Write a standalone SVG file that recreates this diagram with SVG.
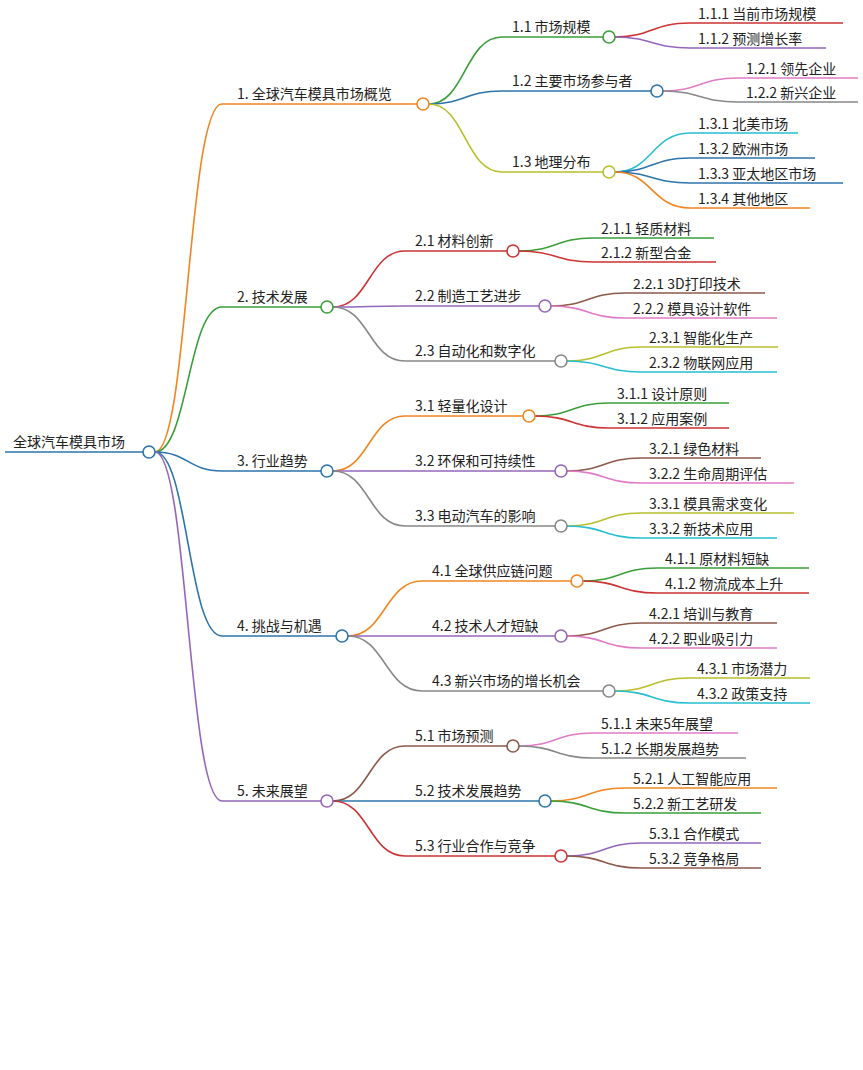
<svg xmlns="http://www.w3.org/2000/svg" width="863" height="1070" viewBox="0 0 863 1070">
<style>
text{font-family:"Noto Sans CJK SC","Noto Sans",sans-serif;font-size:14px;fill:#222}
path{fill:none;stroke-width:1.6}
circle{fill:#fff;stroke-width:1.6}
.o{stroke:#f0861f}.g{stroke:#3a9e3a}.b{stroke:#2c74aa}.p{stroke:#9466bb}.r{stroke:#cc3333}.y{stroke:#b8bf2d}.k{stroke:#888}.pk{stroke:#e07cc5}.c{stroke:#27bfd0}.br{stroke:#8c5a4a}
</style>
<rect width="863" height="1070" fill="#fff"/>
<g id="connectors">
<path class="b" d="M5 452H143" stroke-width="3.5"/>
<path class="o" d="M155 452C188 452 188 104 222 104H417" stroke-width="2"/>
<path class="g" d="M155 452C188 452 188 307 222 307H321" stroke-width="2"/>
<path class="b" d="M155 452C188 452 188 471 222 471H321" stroke-width="2"/>
<path class="b" d="M155 452C188 452 188 636 222 636H336" stroke-width="2"/>
<path class="p" d="M155 452C188 452 188 801 222 801H321" stroke-width="2"/>
<path class="g" d="M429 104C465 104 465 37 502 37H603"/>
<path class="b" d="M429 104C465 104 465 91 502 91H651"/>
<path class="y" d="M429 104C465 104 465 172 502 172H603"/>
<path class="r" d="M333 307C369 307 369 251 405 251H507"/>
<path class="p" d="M333 307C369 307 369 306 405 306H539"/>
<path class="k" d="M333 307C369 307 369 361 405 361H555"/>
<path class="o" d="M333 471C369 471 369 416 405 416H523"/>
<path class="p" d="M333 471C369 471 369 471 405 471H555"/>
<path class="k" d="M333 471C369 471 369 526 405 526H555"/>
<path class="o" d="M348 636C385 636 385 581 422 581H571"/>
<path class="p" d="M348 636C385 636 385 636 422 636H555"/>
<path class="k" d="M348 636C385 636 385 691 422 691H603"/>
<path class="br" d="M333 801C369 801 369 746 405 746H507"/>
<path class="b" d="M333 801C369 801 369 801 405 801H539"/>
<path class="r" d="M333 801C369 801 369 856 405 856H555"/>
<path class="r" d="M615 37C652 37 652 23 690 23H843"/>
<path class="p" d="M615 37C652 37 652 48 690 48H826"/>
<path class="pk" d="M663 91C700 91 700 78 738 78H858"/>
<path class="k" d="M663 91C700 91 700 102 738 102H858"/>
<path class="c" d="M615 172C652 172 652 133 690 133H798"/>
<path class="b" d="M615 172C652 172 652 158 690 158H815"/>
<path class="b" d="M615 172C652 172 652 183 690 183H843"/>
<path class="o" d="M615 172C652 172 652 208 690 208H810"/>
<path class="g" d="M519 251C556 251 556 238 593 238H714"/>
<path class="r" d="M519 251C556 251 556 262 593 262H716"/>
<path class="br" d="M551 306C588 306 588 293 625 293H765"/>
<path class="pk" d="M551 306C588 306 588 318 625 318H777"/>
<path class="y" d="M567 361C604 361 604 347 641 347H778"/>
<path class="c" d="M567 361C604 361 604 372 641 372H777"/>
<path class="g" d="M535 416C572 416 572 403 609 403H729"/>
<path class="r" d="M535 416C572 416 572 428 609 428H729"/>
<path class="br" d="M567 471C604 471 604 458 641 458H761"/>
<path class="pk" d="M567 471C604 471 604 483 641 483H794"/>
<path class="y" d="M567 526C604 526 604 513 641 513H794"/>
<path class="c" d="M567 526C604 526 604 538 641 538H777"/>
<path class="g" d="M583 581C620 581 620 568 657 568H809"/>
<path class="r" d="M583 581C620 581 620 593 657 593H809"/>
<path class="br" d="M567 636C604 636 604 623 641 623H777"/>
<path class="pk" d="M567 636C604 636 604 648 641 648H777"/>
<path class="y" d="M615 691C652 691 652 678 689 678H810"/>
<path class="c" d="M615 691C652 691 652 703 689 703H810"/>
<path class="pk" d="M519 746C556 746 556 733 593 733H738"/>
<path class="k" d="M519 746C556 746 556 758 593 758H746"/>
<path class="o" d="M551 801C588 801 588 788 625 788H777"/>
<path class="g" d="M551 801C588 801 588 813 625 813H761"/>
<path class="p" d="M567 856C604 856 604 843 641 843H761"/>
<path class="br" d="M567 856C604 856 604 868 641 868H761"/>
</g>
<g id="root"><text x="13" y="447">全球汽车模具市场</text><circle class="b" cx="149" cy="452" r="6"/></g>
<g id="n1"><text x="237" y="99">1. 全球汽车模具市场概览</text><circle class="o" cx="423" cy="104" r="6"/></g>
<g id="n2"><text x="237" y="302">2. 技术发展</text><circle class="g" cx="327" cy="307" r="6"/></g>
<g id="n3"><text x="237" y="466">3. 行业趋势</text><circle class="b" cx="327" cy="471" r="6"/></g>
<g id="n4"><text x="237" y="631">4. 挑战与机遇</text><circle class="b" cx="342" cy="636" r="6"/></g>
<g id="n5"><text x="237" y="796">5. 未来展望</text><circle class="p" cx="327" cy="801" r="6"/></g>
<g id="n1_1"><text x="512" y="32">1.1 市场规模</text><circle class="g" cx="609" cy="37" r="6"/></g>
<g id="n1_2"><text x="512" y="86">1.2 主要市场参与者</text><circle class="b" cx="657" cy="91" r="6"/></g>
<g id="n1_3"><text x="512" y="167">1.3 地理分布</text><circle class="y" cx="609" cy="172" r="6"/></g>
<g id="n2_1"><text x="415" y="246">2.1 材料创新</text><circle class="r" cx="513" cy="251" r="6"/></g>
<g id="n2_2"><text x="415" y="301">2.2 制造工艺进步</text><circle class="p" cx="545" cy="306" r="6"/></g>
<g id="n2_3"><text x="415" y="356">2.3 自动化和数字化</text><circle class="k" cx="561" cy="361" r="6"/></g>
<g id="n3_1"><text x="415" y="411">3.1 轻量化设计</text><circle class="o" cx="529" cy="416" r="6"/></g>
<g id="n3_2"><text x="415" y="466">3.2 环保和可持续性</text><circle class="p" cx="561" cy="471" r="6"/></g>
<g id="n3_3"><text x="415" y="521">3.3 电动汽车的影响</text><circle class="k" cx="561" cy="526" r="6"/></g>
<g id="n4_1"><text x="432" y="576">4.1 全球供应链问题</text><circle class="o" cx="577" cy="581" r="6"/></g>
<g id="n4_2"><text x="432" y="631">4.2 技术人才短缺</text><circle class="p" cx="561" cy="636" r="6"/></g>
<g id="n4_3"><text x="432" y="686">4.3 新兴市场的增长机会</text><circle class="k" cx="609" cy="691" r="6"/></g>
<g id="n5_1"><text x="415" y="741">5.1 市场预测</text><circle class="br" cx="513" cy="746" r="6"/></g>
<g id="n5_2"><text x="415" y="796">5.2 技术发展趋势</text><circle class="b" cx="545" cy="801" r="6"/></g>
<g id="n5_3"><text x="415" y="851">5.3 行业合作与竞争</text><circle class="r" cx="561" cy="856" r="6"/></g>
<g id="leaves">
<text x="698" y="19">1.1.1 当前市场规模</text>
<text x="698" y="44">1.1.2 预测增长率</text>
<text x="746" y="74">1.2.1 领先企业</text>
<text x="746" y="98">1.2.2 新兴企业</text>
<text x="698" y="129">1.3.1 北美市场</text>
<text x="698" y="154">1.3.2 欧洲市场</text>
<text x="698" y="179">1.3.3 亚太地区市场</text>
<text x="698" y="204">1.3.4 其他地区</text>
<text x="601" y="234">2.1.1 轻质材料</text>
<text x="601" y="258">2.1.2 新型合金</text>
<text x="633" y="289">2.2.1 3D打印技术</text>
<text x="633" y="314">2.2.2 模具设计软件</text>
<text x="649" y="343">2.3.1 智能化生产</text>
<text x="649" y="368">2.3.2 物联网应用</text>
<text x="617" y="399">3.1.1 设计原则</text>
<text x="617" y="424">3.1.2 应用案例</text>
<text x="649" y="454">3.2.1 绿色材料</text>
<text x="649" y="479">3.2.2 生命周期评估</text>
<text x="649" y="509">3.3.1 模具需求变化</text>
<text x="649" y="534">3.3.2 新技术应用</text>
<text x="665" y="564">4.1.1 原材料短缺</text>
<text x="665" y="589">4.1.2 物流成本上升</text>
<text x="649" y="619">4.2.1 培训与教育</text>
<text x="649" y="644">4.2.2 职业吸引力</text>
<text x="697" y="674">4.3.1 市场潜力</text>
<text x="697" y="699">4.3.2 政策支持</text>
<text x="601" y="729">5.1.1 未来5年展望</text>
<text x="601" y="754">5.1.2 长期发展趋势</text>
<text x="633" y="784">5.2.1 人工智能应用</text>
<text x="633" y="809">5.2.2 新工艺研发</text>
<text x="649" y="839">5.3.1 合作模式</text>
<text x="649" y="864">5.3.2 竞争格局</text>
</g>
</svg>
